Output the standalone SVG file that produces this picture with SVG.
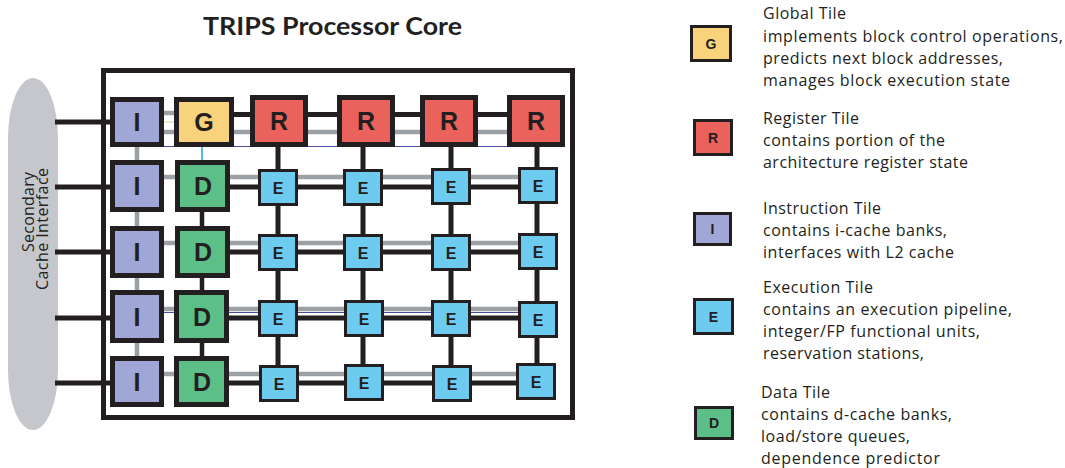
<svg xmlns="http://www.w3.org/2000/svg" width="1065" height="468" viewBox="0 0 1065 468">
<style>
.tile{stroke:#231f20;stroke-width:5}
.etile{stroke:#231f20;stroke-width:3}
.ltile{stroke:#231f20;stroke-width:3}
.I{fill:#a0a6d5}.G{fill:#f9d27c}.R{fill:#eb625d}.D{fill:#5cbf88}.E{fill:#6dcbf0}
.big{font-family:"Liberation Sans",Arial,sans-serif;font-weight:bold;font-size:25px;fill:#231f20;text-anchor:middle}
.sm{font-family:"Liberation Sans",Arial,sans-serif;font-weight:bold;font-size:16px;fill:#231f20;text-anchor:middle}
.lg{font-family:"Liberation Sans",Arial,sans-serif;font-weight:bold;font-size:14px;fill:#231f20;text-anchor:middle}
.txt{font-family:"Open Sans","Noto Sans",sans-serif;font-size:16px;fill:#231f20}
.blk{stroke:#231f20;stroke-width:5;fill:none}
.blk45{stroke:#231f20;stroke-width:4.5;fill:none}
.gry{stroke:#9ba1a4;stroke-width:4.5;fill:none}
</style>
<rect x="8" y="78" width="50" height="352" rx="25" ry="60" fill="#c5c7cd"/>
<text class="txt" fill="#414042" text-anchor="middle" textLength="80" transform="translate(33.5,212) rotate(-90)">Secondary</text>
<text class="txt" fill="#414042" text-anchor="middle" textLength="122" transform="translate(48,229) rotate(-90)">Cache  Interface</text>
<text x="332.5" y="35" font-family="Lato,'Open Sans',sans-serif" font-weight="bold" font-size="25" fill="#231f20" text-anchor="middle" textLength="259" lengthAdjust="spacingAndGlyphs">TRIPS Processor Core</text>
<rect id="frame" x="103.5" y="70.5" width="469" height="347" fill="none" stroke="#231f20" stroke-width="5"/>
<g id="connectors">
<path class="blk" d="M55 122H112M55 187H112M55 252H112M55 318H112M55 383H112"/>
<path class="gry" d="M137 113H204M137 132H536M137 177H538M137 243H538M137 309H538M137 374H538"/>
<path class="gry" d="M137 122V383"/>
<path d="M164 122H176" stroke="#c8d89a" stroke-width="1"/>
<path d="M164 146.5H565M164 312.5H518" stroke="#4b4fa3" stroke-width="1.2"/>
<path class="blk" d="M204 114.5H536M202 187H538M202 252H538M202 318H538M202 383H538"/>
<path class="blk45" d="M202 186V382"/>
<path d="M202 137V162" stroke="#1aa6d8" stroke-width="1.5"/>
<path class="blk" d="M278 140V382M363 140V382M451 140V382M537 140V382"/>
</g>
<g id="i0"><rect class="tile I" x="112.5" y="99.5" width="49" height="45"/><text class="big" x="137" y="131">I</text></g>
<g id="g0"><rect class="tile G" x="176.5" y="99.5" width="55" height="45"/><text class="big" x="204" y="131">G</text></g>
<g id="r1"><rect class="tile R" x="252.5" y="97.5" width="53" height="47"/><text class="big" x="279" y="130">R</text></g>
<g id="r2"><rect class="tile R" x="339.5" y="97.5" width="53" height="47"/><text class="big" x="366" y="130">R</text></g>
<g id="r3"><rect class="tile R" x="422.5" y="97.5" width="53" height="47"/><text class="big" x="449" y="130">R</text></g>
<g id="r4"><rect class="tile R" x="509.5" y="97.5" width="53" height="47"/><text class="big" x="536" y="130">R</text></g>
<g id="i1"><rect class="tile I" x="112.5" y="162.5" width="49" height="47"/><text class="big" x="137" y="195">I</text></g>
<g id="i2"><rect class="tile I" x="112.5" y="228.5" width="49" height="47"/><text class="big" x="137" y="261">I</text></g>
<g id="i3"><rect class="tile I" x="112.5" y="292.5" width="49" height="48"/><text class="big" x="137" y="325.5">I</text></g>
<g id="i4"><rect class="tile I" x="112.5" y="358.5" width="49" height="46"/><text class="big" x="137" y="390.5">I</text></g>
<g id="d1"><rect class="tile D" x="177.5" y="162.5" width="50" height="47"/><text class="big" x="203" y="195">D</text></g>
<g id="d2"><rect class="tile D" x="177.5" y="228.5" width="50" height="47"/><text class="big" x="203" y="261">D</text></g>
<g id="d3"><rect class="tile D" x="176.5" y="292.5" width="50" height="48"/><text class="big" x="202" y="325.5">D</text></g>
<g id="d4"><rect class="tile D" x="176.5" y="358.5" width="50" height="46"/><text class="big" x="202" y="390.5">D</text></g>
<g id="e11"><rect class="etile E" x="259.5" y="170.5" width="37" height="34"/><text class="sm" x="278" y="193.5">E</text></g>
<g id="e12"><rect class="etile E" x="344.5" y="170.5" width="37" height="34"/><text class="sm" x="363" y="193.5">E</text></g>
<g id="e13"><rect class="etile E" x="432.5" y="169.5" width="37" height="34"/><text class="sm" x="451" y="192.5">E</text></g>
<g id="e14"><rect class="etile E" x="519.5" y="168.5" width="37" height="34"/><text class="sm" x="538" y="191.5">E</text></g>
<g id="e21"><rect class="etile E" x="259.5" y="235.5" width="37" height="34"/><text class="sm" x="278" y="258.5">E</text></g>
<g id="e22"><rect class="etile E" x="344.5" y="235.5" width="37" height="34"/><text class="sm" x="363" y="258.5">E</text></g>
<g id="e23"><rect class="etile E" x="432.5" y="235.5" width="37" height="34"/><text class="sm" x="451" y="258.5">E</text></g>
<g id="e24"><rect class="etile E" x="519.5" y="234.5" width="37" height="34"/><text class="sm" x="538" y="257.5">E</text></g>
<g id="e31"><rect class="etile E" x="259.5" y="301.5" width="37" height="34"/><text class="sm" x="278" y="324.5">E</text></g>
<g id="e32"><rect class="etile E" x="345.5" y="301.5" width="37" height="34"/><text class="sm" x="364" y="324.5">E</text></g>
<g id="e33"><rect class="etile E" x="432.5" y="301.5" width="37" height="34"/><text class="sm" x="451" y="324.5">E</text></g>
<g id="e34"><rect class="etile E" x="519.5" y="302.5" width="37" height="34"/><text class="sm" x="538" y="325.5">E</text></g>
<g id="e41"><rect class="etile E" x="260.5" y="366.5" width="37" height="34"/><text class="sm" x="279" y="389.5">E</text></g>
<g id="e42"><rect class="etile E" x="345.5" y="365.5" width="37" height="34"/><text class="sm" x="364" y="388.5">E</text></g>
<g id="e43"><rect class="etile E" x="433.5" y="366.5" width="37" height="34"/><text class="sm" x="452" y="389.5">E</text></g>
<g id="e44"><rect class="etile E" x="517.5" y="364.5" width="37" height="34"/><text class="sm" x="536" y="387.5">E</text></g>
<g id="legend-g"><rect class="ltile G" x="691.5" y="26.5" width="39" height="34"/><text class="lg" x="711" y="48.5">G</text>
<text class="txt" x="763" y="19" textLength="83">Global Tile</text><text class="txt" x="763" y="42" textLength="300">implements block control operations,</text><text class="txt" x="763" y="64" textLength="240">predicts next block addresses,</text><text class="txt" x="763" y="86" textLength="247">manages block execution state</text></g>
<g id="legend-r"><rect class="ltile R" x="694.5" y="120.5" width="37" height="34"/><text class="lg" x="713" y="142.5">R</text>
<text class="txt" x="763" y="124" textLength="96">Register Tile</text><text class="txt" x="763" y="146" textLength="182">contains portion of the</text><text class="txt" x="763" y="168" textLength="205">architecture register state</text></g>
<g id="legend-i"><rect class="ltile I" x="694.5" y="213.5" width="36" height="31"/><text class="lg" x="712.5" y="234">I</text>
<text class="txt" x="763" y="214" textLength="118">Instruction Tile</text><text class="txt" x="763" y="236" textLength="184">contains i-cache banks,</text><text class="txt" x="763" y="258" textLength="191">interfaces with L2 cache</text></g>
<g id="legend-e"><rect class="ltile E" x="694.5" y="299.5" width="38" height="34"/><text class="lg" x="713.5" y="321.5">E</text>
<text class="txt" x="763" y="293" textLength="110">Execution Tile</text><text class="txt" x="763" y="315" textLength="249">contains an execution pipeline,</text><text class="txt" x="763" y="337" textLength="217">integer/FP functional units,</text><text class="txt" x="763" y="359" textLength="161">reservation stations,</text></g>
<g id="legend-d"><rect class="ltile D" x="695.5" y="407.5" width="37" height="31"/><text class="lg" x="714" y="428">D</text>
<text class="txt" x="761" y="398" textLength="69">Data Tile</text><text class="txt" x="761" y="420" textLength="191">contains d-cache banks,</text><text class="txt" x="761" y="442" textLength="149">load/store queues,</text><text class="txt" x="761" y="464" textLength="179">dependence predictor</text></g>
</svg>
